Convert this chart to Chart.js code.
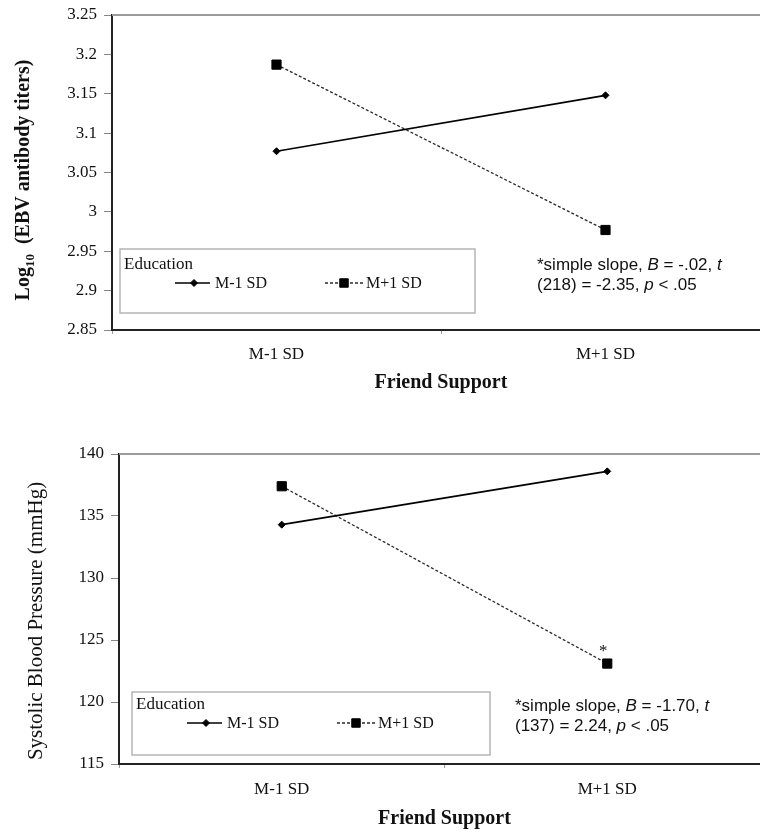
<!DOCTYPE html>
<html><head><meta charset="utf-8">
<script src="https://cdn.jsdelivr.net/npm/chart.js@4.4.1/dist/chart.umd.min.js"></script>
<style>
html,body{margin:0;padding:0;background:#fff;overflow:hidden;width:760px;height:834px;}
.wrap{position:absolute;left:0;width:760px;overflow:hidden;}
canvas{display:block;}
</style></head><body>
<div class="wrap" style="top:0;height:400px"><canvas id="c1" width="770" height="400"></canvas></div>
<div class="wrap" style="top:420px;height:414px"><canvas id="c2" width="770" height="414"></canvas></div>
<script>
// ---- data ----
const categories = ['M-1 SD', 'M+1 SD'];
const seriesLabels = ['M-1 SD', 'M+1 SD'];
const legendTitle = 'Education';
const xAxisTitle = 'Friend Support';

const ebvLowEducation = [3.077, 3.148];
const ebvHighEducation = [3.187, 2.977];
const ebvTicks = [2.85, 2.9, 2.95, 3, 3.05, 3.1, 3.15, 3.2, 3.25];
const ebvTitleParts = ['Log', '10', '  (EBV antibody titers)'];
const ebvNote = [[['*simple slope, ', 0], ['B', 1], [' = -.02, ', 0], ['t', 1]],
                 [['(218) = -2.35, ', 0], ['p', 1], [' < .05', 0]]];

const sbpLowEducation = [134.3, 138.6];
const sbpHighEducation = [137.4, 123.1];
const sbpTicks = [115, 120, 125, 130, 135, 140];
const sbpTitle = 'Systolic Blood Pressure (mmHg)';
const sbpNote = [[['*simple slope, ', 0], ['B', 1], [' = -1.70, ', 0], ['t', 1]],
                 [['(137) = 2.24, ', 0], ['p', 1], [' < .05', 0]]];

const SERIF = '"Liberation Serif", "Times New Roman", serif';
const SANS = '"Liberation Sans", Arial, sans-serif';

function drawMarker(ctx, style, r, x, y) {
  ctx.beginPath();
  if (style === 'rect') {
    const s = Math.SQRT1_2 * r;
    ctx.rect(x - s, y - s, 2 * s, 2 * s);
  } else {
    ctx.moveTo(x - r, y); ctx.lineTo(x, y - r); ctx.lineTo(x + r, y); ctx.lineTo(x, y + r); ctx.closePath();
  }
  ctx.fillStyle = '#000'; ctx.fill();
  ctx.lineWidth = 1; ctx.strokeStyle = '#000'; ctx.stroke();
}

function decor(cfg) {
  return {
    id: 'decor_' + cfg.id,
    afterDraw(chart) {
      const ctx = chart.ctx;
      const a = chart.chartArea;
      ctx.save();
      // top frame line
      ctx.strokeStyle = '#9a9a9a'; ctx.lineWidth = 2;
      ctx.beginPath(); ctx.moveTo(a.left, a.top); ctx.lineTo(a.right, a.top); ctx.stroke();

      // y title (rotated)
      ctx.save();
      ctx.translate(cfg.yt.x, cfg.yt.y);
      ctx.rotate(-Math.PI / 2);
      ctx.fillStyle = '#111';
      ctx.textBaseline = 'alphabetic';
      let total = 0;
      cfg.yt.parts.forEach(p => { ctx.font = p.font; total += ctx.measureText(p.t).width; });
      let tx = -total / 2;
      cfg.yt.parts.forEach(p => {
        ctx.font = p.font;
        ctx.textAlign = 'left';
        ctx.fillText(p.t, tx, cfg.yt.base + (p.dy || 0));
        tx += ctx.measureText(p.t).width;
      });
      ctx.restore();

      // legend box
      const L = cfg.leg;
      ctx.strokeStyle = '#b5b5b5'; ctx.lineWidth = 1.5;
      ctx.strokeRect(L.x, L.y, L.w, L.h);
      ctx.fillStyle = '#111';
      ctx.textAlign = 'left'; ctx.textBaseline = 'alphabetic';
      ctx.font = '17px ' + SERIF;
      ctx.fillText(legendTitle, L.x + 4, L.y + L.titleDy);
      const ly = L.y + L.itemDy;
      const items = [[55, 90, 74, 95], [205, 243, 224, 246]];
      chart.data.datasets.forEach((ds, i) => {
        const [x0, x1, xm, xt] = items[i];
        ctx.save();
        ctx.strokeStyle = ds.borderColor; ctx.lineWidth = ds.borderWidth;
        ctx.setLineDash(ds.borderDash || []);
        ctx.beginPath(); ctx.moveTo(L.x + x0, ly); ctx.lineTo(L.x + x1, ly); ctx.stroke();
        ctx.setLineDash([]);
        drawMarker(ctx, ds.pointStyle, ds.pointStyle === 'rect' ? 6 : 3.5, L.x + xm, ly);
        ctx.restore();
        ctx.fillStyle = '#111';
        ctx.font = '16px ' + SERIF;
        ctx.fillText(ds.label, L.x + xt, ly + 5);
      });

      // note text
      cfg.note.lines.forEach((line, li) => {
        let x = cfg.note.x;
        const y = cfg.note.y + li * 20;
        line.forEach(([t, it]) => {
          ctx.font = (it ? 'italic ' : '') + '17px ' + SANS;
          ctx.fillStyle = '#111';
          ctx.fillText(t, x, y);
          x += ctx.measureText(t).width;
        });
      });

      // significance star
      if (cfg.star) {
        const pt = chart.getDatasetMeta(1).data[1];
        ctx.font = '17px ' + SERIF;
        ctx.textAlign = 'center';
        ctx.fillStyle = '#111';
        ctx.fillText('*', pt.x - 4, pt.y - 8);
      }
      ctx.restore();
    }
  };
}

function makeChart(cfg) {
  return new Chart(document.getElementById(cfg.id), {
    type: 'line',
    data: {
      labels: categories,
      datasets: [
        { label: seriesLabels[0], data: cfg.low, borderColor: '#000', backgroundColor: '#000',
          borderWidth: 1.7, pointStyle: 'rectRot', pointRadius: 3.5, pointBorderWidth: 1,
          pointBackgroundColor: '#000', pointBorderColor: '#000', tension: 0 },
        { label: seriesLabels[1], data: cfg.high, borderColor: '#2a2a2a', backgroundColor: '#000',
          borderWidth: 1.3, borderDash: [3, 2], pointStyle: 'rect', pointRadius: 6.5, pointBorderWidth: 1,
          pointBackgroundColor: '#000', pointBorderColor: '#000', tension: 0 }
      ]
    },
    options: {
      responsive: false, animation: false, devicePixelRatio: 1,
      layout: { autoPadding: false, padding: { top: cfg.padTop, left: 0, right: 0, bottom: 0 } },
      plugins: { legend: { display: false }, tooltip: { enabled: false } },
      scales: {
        x: {
          type: 'category', offset: true,
          grid: { offset: true, drawOnChartArea: false, drawTicks: true, tickLength: 4, color: '#999', lineWidth: 1 },
          border: { display: true, color: '#222', width: 2 },
          ticks: { font: { family: SERIF, size: 17 }, color: '#111', padding: cfg.xPad, maxRotation: 0 },
          title: { display: true, text: xAxisTitle, color: '#111',
                   font: { family: SERIF, size: 20, weight: 'bold' }, padding: { top: 0, bottom: cfg.xTitlePad } },
          afterFit(s) { s.height = cfg.xH; s.paddingLeft = 0; s.paddingRight = 0; }
        },
        y: {
          min: cfg.ticks[0], max: cfg.ticks[cfg.ticks.length - 1],
          afterBuildTicks(s) { s.ticks = cfg.ticks.map(v => ({ value: v })); },
          ticks: { font: { family: SERIF, size: 17 }, color: '#111', padding: 7,
                   callback: v => String(+Number(v).toFixed(2)) },
          grid: { drawOnChartArea: false, drawTicks: true, tickLength: 8, color: '#888' },
          border: { display: true, color: '#222', width: 2 },
          afterFit(s) { s.width = cfg.yW; s.paddingTop = 0; s.paddingBottom = 0; }
        }
      }
    },
    plugins: [decor(cfg)]
  });
}

makeChart({
  id: 'c1', low: ebvLowEducation, high: ebvHighEducation, ticks: ebvTicks,
  padTop: 15, yW: 112, xH: 70, xPad: 10, xTitlePad: 5,
  yt: { x: 22, y: 180, base: 7, parts: [
    { t: ebvTitleParts[0], font: 'bold 20px ' + SERIF },
    { t: ebvTitleParts[1], font: 'bold 13px ' + SERIF, dy: 5 },
    { t: ebvTitleParts[2], font: 'bold 20px ' + SERIF } ] },
  leg: { x: 120, y: 249, w: 355, h: 64, titleDy: 20, itemDy: 34 },
  note: { x: 537, y: 270, lines: ebvNote },
  star: false
});

makeChart({
  id: 'c2', low: sbpLowEducation, high: sbpHighEducation, ticks: sbpTicks,
  padTop: 34, yW: 119, xH: 70, xPad: 11, xTitlePad: 3,
  yt: { x: 35, y: 201, base: 7, parts: [ { t: sbpTitle, font: '21px ' + SERIF } ] },
  leg: { x: 132, y: 272, w: 358, h: 63, titleDy: 17, itemDy: 31 },
  note: { x: 515, y: 291, lines: sbpNote },
  star: true
});
</script>
</body></html>
